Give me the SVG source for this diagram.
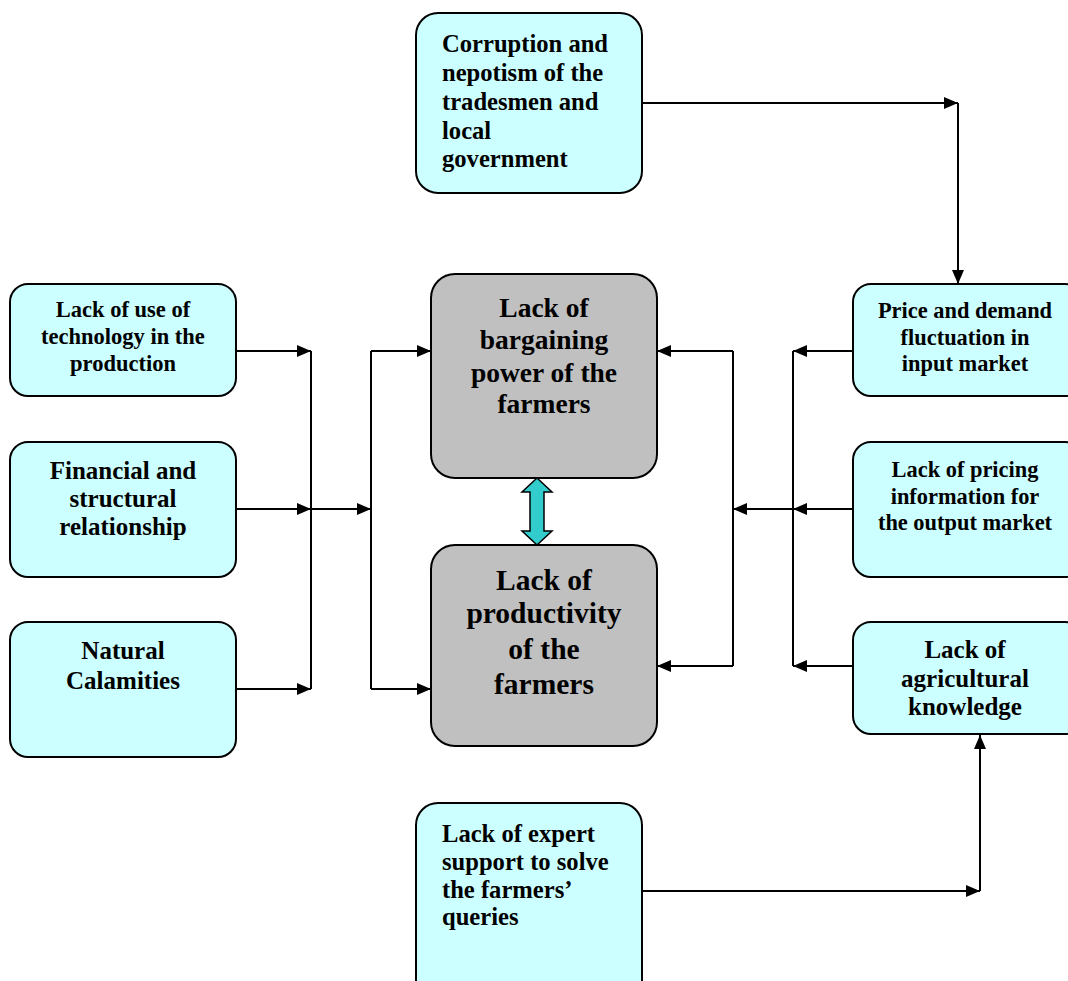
<svg xmlns="http://www.w3.org/2000/svg" width="1068" height="981" viewBox="0 0 1068 981">
<style>
.box{fill:#CCFFFF;stroke:#000;stroke-width:2}
.core{fill:#C0C0C0;stroke:#000;stroke-width:2}
.c{text-anchor:middle}
.ln{fill:none;stroke:#000;stroke-width:2}
</style>
<defs>
<marker id="ah" viewBox="0 0 14 12" refX="14" refY="6" markerWidth="14" markerHeight="12" markerUnits="userSpaceOnUse" orient="auto">
<path d="M0,0 L14,6 L0,12 Z" fill="#000"/>
</marker>
</defs>
<rect width="1068" height="981" fill="#fff"/>
<g id="connectors">
<path class="ln" d="M642,103 H958" marker-end="url(#ah)"/>
<path class="ln" d="M958,103 V284" marker-end="url(#ah)"/>
<path class="ln" d="M642,891 H980" marker-end="url(#ah)"/>
<path class="ln" d="M980,891 V735" marker-end="url(#ah)"/>
<path class="ln" d="M236,351 H311" marker-end="url(#ah)"/>
<path class="ln" d="M236,509 H311" marker-end="url(#ah)"/>
<path class="ln" d="M236,689 H311" marker-end="url(#ah)"/>
<path class="ln" d="M311,351 V689"/>
<path class="ln" d="M311,509 H371" marker-end="url(#ah)"/>
<path class="ln" d="M371,351 V689"/>
<path class="ln" d="M371,351 H431" marker-end="url(#ah)"/>
<path class="ln" d="M371,689 H431" marker-end="url(#ah)"/>
<path class="ln" d="M853,351 H793" marker-end="url(#ah)"/>
<path class="ln" d="M853,509 H793" marker-end="url(#ah)"/>
<path class="ln" d="M853,666 H793" marker-end="url(#ah)"/>
<path class="ln" d="M793,351 V666"/>
<path class="ln" d="M793,509 H733" marker-end="url(#ah)"/>
<path class="ln" d="M733,351 V666"/>
<path class="ln" d="M733,351 H657" marker-end="url(#ah)"/>
<path class="ln" d="M733,666 H657" marker-end="url(#ah)"/>
<path d="M537,478 L552,492 L544,492 L544,531 L552,531 L537,545 L522,531 L530,531 L530,492 L522,492 Z" fill="#33CCCC" stroke="#000" stroke-width="1.5"/>
</g>
<g font-family="'Liberation Serif', 'Times New Roman', serif" font-weight="bold" fill="#000">
<g id="corruption">
<rect class="box" x="416" y="13" width="226" height="180" rx="22"/>
<text x="442" y="52" font-size="24.6">Corruption and</text>
<text x="442" y="81" font-size="24.6">nepotism of the</text>
<text x="442" y="110" font-size="24.6">tradesmen and</text>
<text x="442" y="139" font-size="24.6">local</text>
<text x="442" y="167" font-size="24.6">government</text>
</g>
<g id="tech">
<rect class="box" x="10" y="284" width="226" height="112" rx="18"/>
<text class="c" x="123" y="317" font-size="22.5">Lack of use of</text>
<text class="c" x="123" y="344" font-size="22.5">technology in the</text>
<text class="c" x="123" y="371" font-size="22.5">production</text>
</g>
<g id="financial">
<rect class="box" x="10" y="442" width="226" height="135" rx="18"/>
<text class="c" x="123" y="479" font-size="25">Financial and</text>
<text class="c" x="123" y="507" font-size="25">structural</text>
<text class="c" x="123" y="535" font-size="25">relationship</text>
</g>
<g id="natural">
<rect class="box" x="10" y="622" width="226" height="135" rx="18"/>
<text class="c" x="123" y="659" font-size="25">Natural</text>
<text class="c" x="123" y="689" font-size="25">Calamities</text>
</g>
<g id="bargaining">
<rect class="core" x="431" y="274" width="226" height="204" rx="24"/>
<text class="c" x="544" y="317" font-size="27.5">Lack of</text>
<text class="c" x="544" y="349" font-size="27.5">bargaining</text>
<text class="c" x="544" y="382" font-size="27.5">power of the</text>
<text class="c" x="544" y="413" font-size="27.5">farmers</text>
</g>
<g id="productivity">
<rect class="core" x="431" y="545" width="226" height="201" rx="24"/>
<text class="c" x="544" y="590" font-size="29.5">Lack of</text>
<text class="c" x="544" y="623" font-size="29.5">productivity</text>
<text class="c" x="544" y="659" font-size="29.5">of the</text>
<text class="c" x="544" y="694" font-size="29.5">farmers</text>
</g>
<g id="price">
<rect class="box" x="853" y="284" width="230" height="112" rx="18"/>
<text class="c" x="965" y="318" font-size="22.4">Price and demand</text>
<text class="c" x="965" y="345" font-size="22.4">fluctuation in</text>
<text class="c" x="965" y="371" font-size="22.4">input market</text>
</g>
<g id="pricing">
<rect class="box" x="853" y="442" width="230" height="135" rx="18"/>
<text class="c" x="965" y="477" font-size="22.4">Lack of pricing</text>
<text class="c" x="965" y="504" font-size="22.4">information for</text>
<text class="c" x="965" y="530" font-size="22.4">the output market</text>
</g>
<g id="knowledge">
<rect class="box" x="853" y="622" width="230" height="112" rx="18"/>
<text class="c" x="965" y="658" font-size="25">Lack of</text>
<text class="c" x="965" y="687" font-size="25">agricultural</text>
<text class="c" x="965" y="715" font-size="25">knowledge</text>
</g>
<g id="expert">
<rect class="box" x="416" y="803" width="226" height="200" rx="22"/>
<text x="442" y="842" font-size="24.6">Lack of expert</text>
<text x="442" y="870" font-size="24.6">support to solve</text>
<text x="442" y="898" font-size="24.6">the farmers’</text>
<text x="442" y="925" font-size="24.6">queries</text>
</g>
</g>
</svg>
